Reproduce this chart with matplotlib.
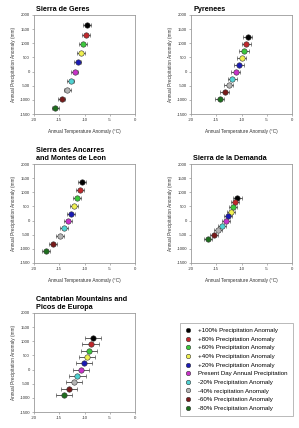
import matplotlib
matplotlib.use("Agg")
import matplotlib.pyplot as plt
from matplotlib.lines import Line2D

plt.rcParams['font.family'] = ['Liberation Sans', 'DejaVu Sans']
plt.rcParams['axes.unicode_minus'] = False

W, H = 299, 428

titles = ["Sierra de Geres", "Pyrenees", "Sierra des Ancarres\nand Montes de Leon",
          "Sierra de la Demanda", "Cantabrian Mountains and\nPicos de Europa"]

labels = ["+100% Precipitation Anomaly", "+80% Precipitation Anomaly",
          "+60% Precipitation Anomaly", "+40% Precipitation Anomaly",
          "+20% Precipitation Anomaly", "Present Day Annual Precipitation",
          "-20% Precipitation Anomaly", "-40% recipitation Anomaly",
          "-60% Precipitation Anomaly", "-80% Precipitation Anomaly"]

colors = ["#000000", "#c0282c", "#3cc83c", "#f0f050", "#1a1ab4",
          "#c832c8", "#50d2d2", "#b4b4b4", "#781a1a", "#1e6e1e"]

# temperature anomaly (°C) and precipitation anomaly (mm) per scenario
geres_t = [-9.5, -9.7, -10.3, -10.7, -11.3, -11.9, -12.7, -13.4, -14.5, -15.8]
geres_p = [1630, 1300, 985, 655, 325, 0, -325, -650, -980, -1300]
pyr_t = [-8.8, -9.1, -9.5, -10.0, -10.5, -11.1, -11.8, -12.5, -13.3, -14.3]
pyr_p = [1220, 985, 740, 480, 240, 0, -250, -490, -735, -970]
anc_t = [-10.5, -10.9, -11.5, -12.0, -12.7, -13.2, -14.0, -14.9, -16.2, -17.7]
anc_p = [1350, 1080, 805, 520, 250, -10, -270, -545, -825, -1085]
dem_t = [-10.8, -11.2, -11.6, -12.0, -12.6, -13.1, -13.9, -14.6, -15.5, -16.6]
dem_p = [805, 640, 475, 320, 155, 0, -175, -345, -510, -660]
can_t = [-8.3, -8.8, -9.1, -9.5, -10.1, -10.7, -11.4, -12.1, -13.0, -14.0]
can_p = [1120, 900, 670, 455, 230, 0, -230, -455, -680, -905]
t_err = [0.7, 0.9, 0.8, 0.8, 1.6]

data = [(geres_t, geres_p), (pyr_t, pyr_p), (anc_t, anc_p), (dem_t, dem_p), (can_t, can_p)]

xticks = [-20, -15, -10, -5, 0]
yticks = [-1500, -1000, -500, 0, 500, 1000, 1500, 2000]

fig = plt.figure(figsize=(W / 100, H / 100), dpi=100)

boxes = [(34, 15, 135, 114), (191, 15, 292, 114), (34, 164, 135, 263),
         (191, 164, 292, 263), (34, 313, 135, 412)]

frame_c = "#9a9a9a"
for i, (x0, y0, x1, y1) in enumerate(boxes):
    ax = fig.add_axes([x0 / W, 1 - y1 / H, (x1 - x0) / W, (y1 - y0) / H])
    tt, pp = data[i]
    for k in range(len(tt)):
        ax.errorbar(tt[k], pp[k], xerr=t_err[i], fmt='o', ms=3.9,
                    mfc=colors[k], mec="#333333", mew=0.4,
                    ecolor="#333333", elinewidth=0.55, capsize=1.4, capthick=0.55)
    ax.set_xlim(-20, 0)
    ax.set_ylim(-1500, 2000)
    ax.set_xticks(xticks)
    ax.set_yticks(yticks)
    ax.tick_params(labelsize=3.1, length=1.5, width=0.5, color=frame_c, pad=1.5,
                   labelcolor="#333333")
    for s in ax.spines.values():
        s.set_color(frame_c)
        s.set_linewidth(0.6)
    ax.set_ylabel("Annual Precipitation Anomaly (mm)", fontsize=3.4, labelpad=2.5, color="#333333")
    if i < 4:
        ax.set_xlabel("Annual Temperature Anomaly (°C)", fontsize=3.4, labelpad=5, color="#333333")
    ax.set_title(titles[i], fontsize=5.2, fontweight='bold', loc='left', pad=3,
                 linespacing=1.15, x=0.02)

handles = [Line2D([], [], marker='o', ls='none', ms=3.2, mfc=c, mec="#333333", mew=0.4)
           for c in colors]
leg = fig.legend(handles, labels, loc='upper left', bbox_to_anchor=(180 / W, 1 - 323 / H),
                 fontsize=4.4, frameon=True, fancybox=False, edgecolor="#9a9a9a",
                 handlelength=1.0, handletextpad=1.2, labelspacing=0.55, borderpad=0.8,
                 borderaxespad=0)
leg.get_frame().set_linewidth(0.6)

fig.savefig("out.png", dpi=100)
